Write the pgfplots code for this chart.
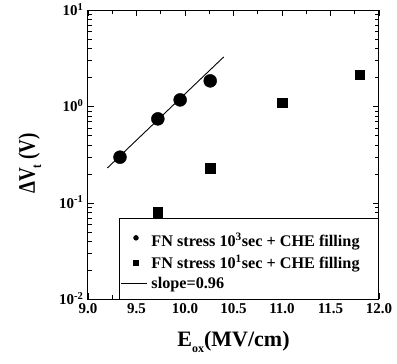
\documentclass[border=0pt]{standalone}
\usepackage{pgfplots}
\pgfplotsset{compat=1.18}
\usepackage{fontspec}
\setmainfont{Liberation Serif}
\begin{document}
\begin{tikzpicture}
\begin{axis}[
  at={(0,0)}, anchor=south west,
  scale only axis, width=291pt, height=289pt,
  xmin=9.0, xmax=12.0, ymode=log, ymin=0.01, ymax=10,
  xtick={9.0,9.5,10.0,10.5,11.0,11.5,12.0},
  xticklabels={9.0,9.5,10.0,10.5,11.0,11.5,12.0},
  minor x tick num=1,
  ytick={0.01,0.1,1,10},
  yticklabels={10\textsuperscript{-2},10\textsuperscript{-1},10\textsuperscript{0},10\textsuperscript{1}},
  tick align=inside, tick pos=both,
  major tick length=6pt, minor tick length=4pt,
  every tick/.style={black, line width=0.8pt},
  axis line style={line width=1pt},
  tick label style={font=\fontsize{15}{17}\selectfont\bfseries},
  xticklabel style={yshift=-1pt},
  yticklabel style={xshift=-1pt, yshift=1pt},
  xlabel={\textbf{E\raisebox{-6pt}{\fontsize{12}{12}\selectfont ox}(MV/cm)}},
  ylabel={\scalebox{1}[1.25]{\textbf{ΔV\raisebox{-5pt}{\fontsize{11}{11}\selectfont t} (V)}}},
  xlabel style={font=\fontsize{22}{24}\selectfont\bfseries,
    at={(axis description cs:0.5,0)}, anchor=center, yshift=-42pt},
  ylabel style={font=\fontsize{19}{21}\selectfont\bfseries,
    at={(axis description cs:-0.2,0.47)}, anchor=center},
  legend cell align=left,
  legend style={at={(rel axis cs:1,0)}, anchor=south east,
    font=\fontsize{16.2}{18}\selectfont\bfseries, draw=black, line width=0.8pt,
    inner xsep=1pt, inner ysep=7pt, row sep=3pt, column sep=3pt,
    nodes={inner xsep=1pt, inner ysep=2pt}},
]
% FN stress 10^3 s followed by CHE filling
\addplot[only marks, mark=*, mark size=6.5pt, black,
  legend image code/.code={\path[draw=none] (0pt,0pt) -- (26pt,0pt);
    \fill[black] (15pt,0pt) circle (2.3pt);}]
  coordinates {(9.33,0.30) (9.72,0.75) (9.95,1.18) (10.26,1.86)};
\addlegendentry{\rule[-7pt]{0pt}{26pt}FN stress 10\textsuperscript{3}sec + CHE filling\hspace*{17pt}}
% FN stress 10^1 s followed by CHE filling
\addplot[only marks, mark=square*, mark size=4.8pt, black,
  legend image code/.code={\path[draw=none] (0pt,0pt) -- (26pt,0pt);
    \fill[black] (12.8pt,-2.2pt) rectangle (17.2pt,2.2pt);}]
  coordinates {(9.72,0.081) (10.26,0.23) (11.0,1.10) (11.8,2.15)};
\addlegendentry{FN stress 10\textsuperscript{1}sec + CHE filling\hspace*{17pt}}
% exponential fit
\addplot[black, line width=0.9pt, no marks,
  legend image code/.code={\draw[black, line width=0.9pt] (0pt,0pt) -- (26pt,0pt);}]
  coordinates {(9.2,0.232) (10.4,3.30)};
\addlegendentry{slope=0.96}
\end{axis}
\path[use as bounding box] (-88pt,-64pt) rectangle (309pt,299pt);
\end{tikzpicture}
\end{document}
